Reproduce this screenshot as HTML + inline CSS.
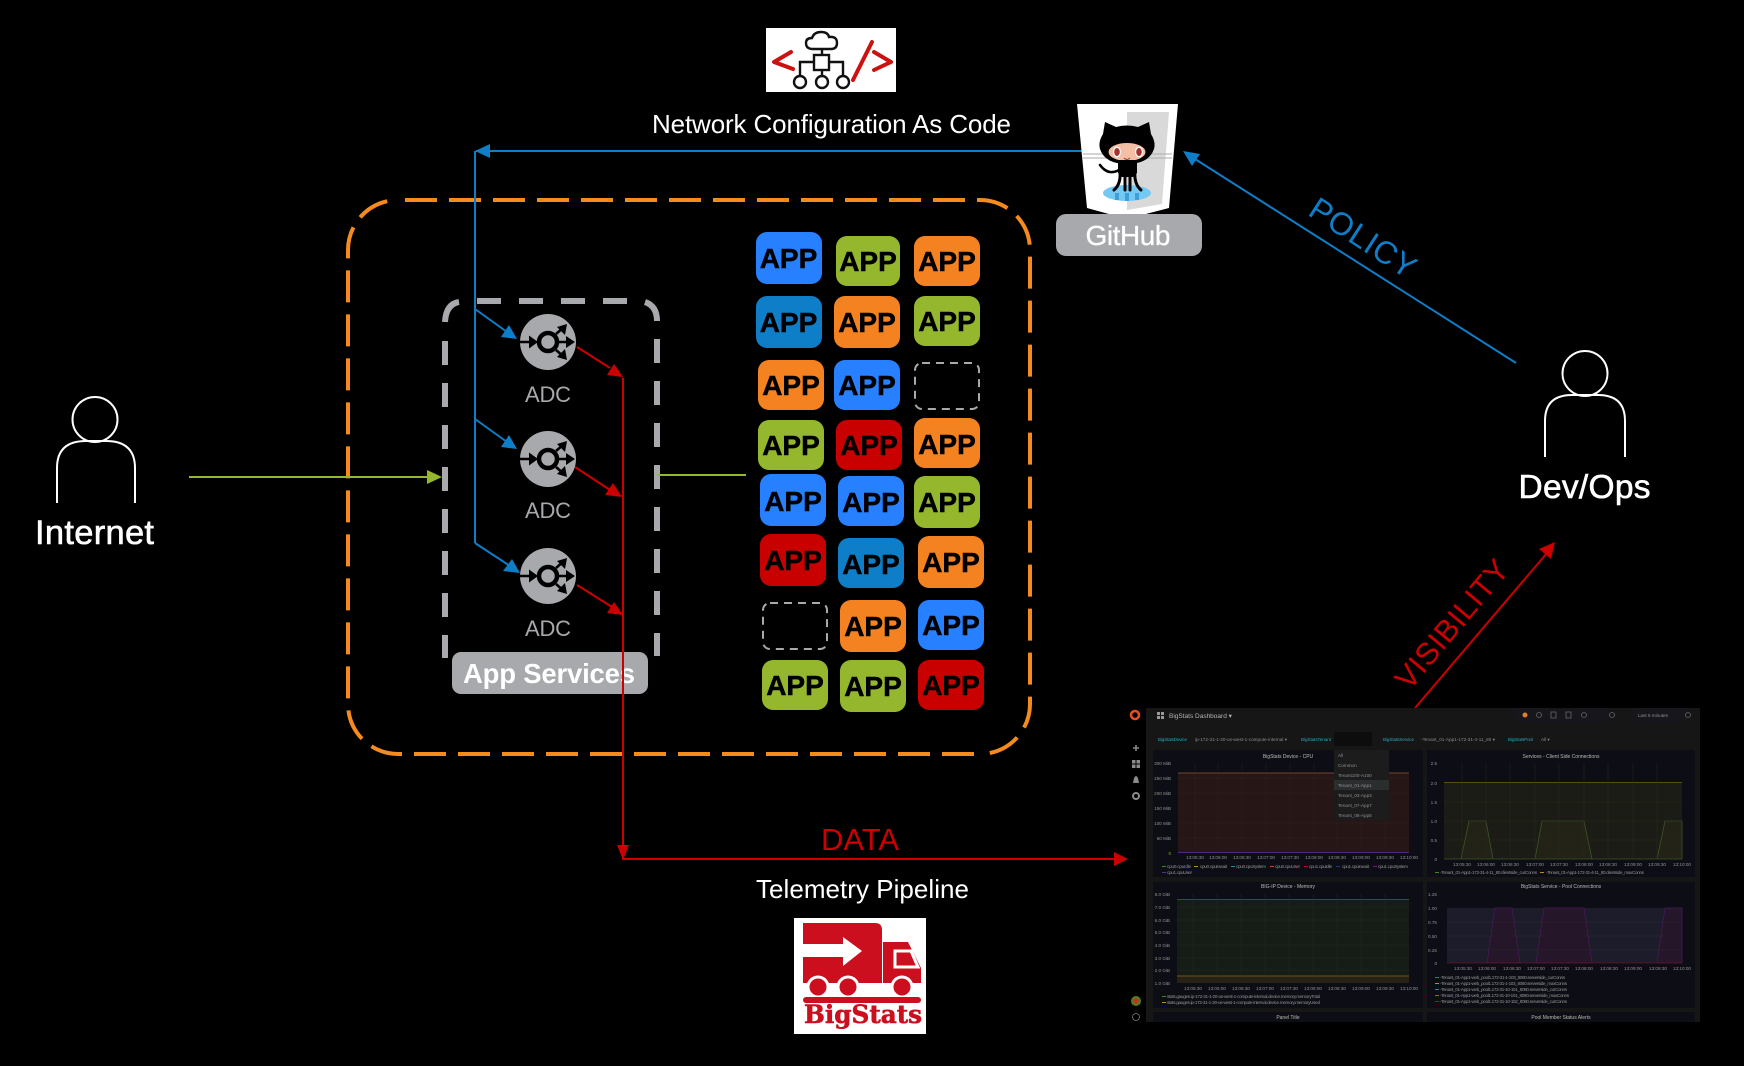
<!DOCTYPE html>
<html><head><meta charset="utf-8"><title>Network Configuration As Code</title>
<style>
html,body{margin:0;padding:0;background:#000;width:1744px;height:1066px;overflow:hidden}
svg{display:block}
text{font-family:"Liberation Sans",sans-serif}
.a{font-size:28px;font-weight:bold;fill:#000;stroke:#000;stroke-width:.5;text-anchor:middle}
.adc{font-size:22px;fill:#A7A9AC;text-anchor:middle}
.d text{font-size:4.6px;fill:#8e9092}
.d .t{font-size:5px;fill:#b8b9ba;text-anchor:middle}
.d .v{fill:#2ea6b8;font-size:4.6px}
.d .r{text-anchor:end}
.d .m{text-anchor:middle}
</style></head><body>
<svg width="1744" height="1066" viewBox="0 0 1744 1066" xmlns="http://www.w3.org/2000/svg">
<defs>
<g id="adc">
<circle r="28" fill="#A7A9AC"/>
<circle r="9" fill="none" stroke="#000" stroke-width="4.500"/>
<path d="M-28 0H-12M10 0H24M8-8L16-15M8 8L16 15" stroke="#000" stroke-width="2.600" fill="none"/>
<path d="M-19-6.500L-10 0L-19 6.500ZM18-6L27 0L18 6ZM9-15L19-18L17-7ZM9 15L19 18L17 7Z" fill="#000"/>
</g>
<filter id="b" x="0" y="0" width="100%" height="100%"><feGaussianBlur stdDeviation="0.35"/></filter>
</defs>
<rect width="1744" height="1066" fill="#000"/>

<!-- orange dashed container -->
<path d="M405 200H980A50 50 0 0 1 1030 250V704A50 50 0 0 1 980 754" fill="none" stroke="#F58A1F" stroke-width="4" stroke-dasharray="32 12"/>
<path d="M980 754H398A50 50 0 0 1 348 704V250A50 50 0 0 1 398 200" fill="none" stroke="#F58A1F" stroke-width="4" stroke-dasharray="32 12" stroke-dashoffset="-6"/>

<!-- gray dashed container -->
<g fill="none" stroke="#A7A9AC" stroke-width="6">
<path d="M477 301H627" stroke-dasharray="24 18"/>
<path d="M459 302Q446 304 445 322M645 302Q657 306 657 321"/>
<path d="M445 341V658" stroke-dasharray="24 18"/>
<path d="M657 339V656" stroke-dasharray="24 18"/>
</g>

<!-- green connectors -->
<path d="M189 477H428" stroke="#95B72D" stroke-width="2"/>
<path d="M427 470L442 477L427 484Z" fill="#95B72D"/>
<path d="M657 475H746" stroke="#95B72D" stroke-width="2"/>

<!-- ADC -->
<use href="#adc" x="548" y="342"/>
<use href="#adc" x="548" y="459"/>
<use href="#adc" x="548" y="576"/>
<text class="adc" x="548" y="402" textLength="46">ADC</text>
<text class="adc" x="548" y="518" textLength="46">ADC</text>
<text class="adc" x="548" y="636" textLength="46">ADC</text>

<!-- App Services label -->
<rect x="452" y="652" width="196" height="42" rx="9" fill="#A7A9AC"/>
<text x="463" y="683" font-size="27.500" font-weight="bold" fill="#fff" textLength="172">App Services</text>

<!-- blue connectors -->
<g stroke="#0F7EC8" stroke-width="2" fill="none">
<path d="M1082 151H476M475 151V543"/>
<path d="M475 309L507 332M475 419L507 442M475 543L510 566"/>
<path d="M1516 363L1195 159"/>
</g>
<g fill="#0F7EC8">
<path d="M475 151L490 144V158Z"/>
<path d="M517 339L501 337L509 325Z"/>
<path d="M517 449L501 447L509 435Z"/>
<path d="M520 573L503 571L512 559Z"/>
<path d="M1183 151L1200 154L1192 166Z"/>
</g>
<text transform="translate(1357 247) rotate(33)" font-size="32" fill="#0F7EC8" text-anchor="middle" textLength="120">POLICY</text>

<!-- red connectors -->
<g stroke="#CC0000" stroke-width="2" fill="none">
<path d="M577 347L610 368M575 467L610 490M577 585L612 607"/>
<path d="M623 378V859H1118"/>
<path d="M1415 708L1547 553"/>
</g>
<g fill="#CC0000">
<path d="M623 377L607 375L614 364Z"/>
<path d="M622 497L605 495L613 483Z"/>
<path d="M623 615L607 613L614 602Z"/>
<path d="M623 860L617 845H629Z"/>
<path d="M1555 542L1551 559L1539 549Z"/>
</g>
<text transform="translate(1460 631) rotate(-50)" font-size="31" fill="#CC0000" text-anchor="middle" textLength="158">VISIBILITY</text>
<text x="860" y="850" font-size="31" fill="#CC0000" text-anchor="middle" textLength="78" lengthAdjust="spacingAndGlyphs">DATA</text>

<!-- APP tiles -->
<g>
<rect x="756" y="232" width="66" height="52" rx="11" fill="#2680FF"/><text class="a" x="788.500" y="268">APP</text>
<rect x="836" y="236" width="64" height="50" rx="11" fill="#95B72D"/><text class="a" x="868" y="271">APP</text>
<rect x="914" y="236" width="66" height="50" rx="11" fill="#F58220"/><text class="a" x="947" y="271">APP</text>

<rect x="756" y="296" width="66" height="52" rx="11" fill="#0F7EC8"/><text class="a" x="788.500" y="332">APP</text>
<rect x="834" y="296" width="66" height="52" rx="11" fill="#F58220"/><text class="a" x="867" y="332">APP</text>
<rect x="914" y="296" width="66" height="50" rx="11" fill="#95B72D"/><text class="a" x="947" y="331">APP</text>

<rect x="758" y="360" width="66" height="50" rx="11" fill="#F58220"/><text class="a" x="791" y="395">APP</text>
<rect x="834" y="360" width="66" height="50" rx="11" fill="#2680FF"/><text class="a" x="867" y="395">APP</text>
<rect x="915" y="363" width="64" height="46" rx="7" fill="none" stroke="#A7A9AC" stroke-width="2" stroke-dasharray="8 6"/>

<rect x="758" y="420" width="66" height="50" rx="11" fill="#95B72D"/><text class="a" x="791" y="455">APP</text>
<rect x="836" y="420" width="66" height="50" rx="11" fill="#C80000"/><text class="a" x="869" y="455">APP</text>
<rect x="914" y="418" width="66" height="50" rx="11" fill="#F58220"/><text class="a" x="947" y="454">APP</text>

<rect x="760" y="474" width="66" height="52" rx="11" fill="#2680FF"/><text class="a" x="793" y="511">APP</text>
<rect x="838" y="476" width="66" height="50" rx="11" fill="#2680FF"/><text class="a" x="871" y="512">APP</text>
<rect x="914" y="476" width="66" height="52" rx="11" fill="#95B72D"/><text class="a" x="947" y="512">APP</text>

<rect x="760" y="534" width="66" height="52" rx="11" fill="#C80000"/><text class="a" x="793" y="570">APP</text>
<rect x="838" y="538" width="66" height="50" rx="11" fill="#0F7EC8"/><text class="a" x="871" y="574">APP</text>
<rect x="918" y="536" width="66" height="52" rx="11" fill="#F58220"/><text class="a" x="951" y="572">APP</text>

<rect x="763" y="603" width="64" height="46" rx="7" fill="none" stroke="#A7A9AC" stroke-width="2" stroke-dasharray="8 6"/>
<rect x="840" y="600" width="66" height="52" rx="11" fill="#F58220"/><text class="a" x="873" y="636">APP</text>
<rect x="918" y="600" width="66" height="50" rx="11" fill="#2680FF"/><text class="a" x="951" y="635">APP</text>

<rect x="762" y="660" width="66" height="50" rx="11" fill="#95B72D"/><text class="a" x="795" y="695">APP</text>
<rect x="840" y="660" width="66" height="52" rx="11" fill="#95B72D"/><text class="a" x="873" y="696">APP</text>
<rect x="918" y="660" width="66" height="50" rx="11" fill="#C80000"/><text class="a" x="951" y="695">APP</text>
</g>

<!-- persons -->
<g fill="none" stroke="#fff" stroke-width="2">
<circle cx="95" cy="419.500" r="22.500"/>
<path d="M57 503V468Q57 441 86 441H106Q135 441 135 468V503"/>
<circle cx="1585" cy="373.500" r="22.500"/>
<path d="M1545 457V421Q1545 395 1572 395H1598Q1625 395 1625 421V457"/>
</g>
<text x="94.500" y="544" font-size="34.500" fill="#fff" stroke="#fff" stroke-width=".6" text-anchor="middle" textLength="119">Internet</text>
<text x="1584.500" y="498" font-size="33.500" fill="#fff" stroke="#fff" stroke-width=".6" text-anchor="middle" textLength="132">Dev/Ops</text>

<!-- text labels -->
<text x="831.500" y="133" font-size="26" fill="#fff" text-anchor="middle" textLength="359">Network Configuration As Code</text>
<text x="862.500" y="898" font-size="26" fill="#fff" text-anchor="middle" textLength="213">Telemetry Pipeline</text>

<!-- config-as-code icon -->
<rect x="766" y="28" width="130" height="64" fill="#fff"/>
<g fill="none" stroke="#CC1111" stroke-width="4" stroke-linecap="round" stroke-linejoin="round">
<path d="M791 52L774 62L793 69M872 42L853 80M874 52L891 62L874 70"/>
</g>
<g fill="none" stroke="#111" stroke-width="2.400">
<path d="M813 49Q806 49 806 43Q806 38 812 38Q814 32 821 32Q828 32 829 37Q837 36 837 43Q837 49 831 49Z"/>
<rect x="814" y="55" width="15" height="15"/>
<path d="M822 49V55M814 62H800V76M829 62H843V76M822 70V76"/>
<circle cx="800" cy="82" r="6"/><circle cx="822" cy="82" r="6"/><circle cx="843" cy="82" r="6"/>
</g>

<!-- GitHub -->
<path d="M1077 104H1178L1169 208L1127 219L1087 208Z" fill="#fff"/>
<path d="M1127 112H1169L1162 204L1127 210Z" fill="#D9D9D9"/>
<path d="M1083 154H1172M1083 158H1172" stroke="#aaa" stroke-width="1"/>
<ellipse cx="1127" cy="193" rx="24" ry="8" fill="#73C9F2"/>
<path d="M1117 193v7M1127 193v8M1137 193v7" stroke="#3E9FDB" stroke-width="4"/>
<path d="M1105 122L1116 127Q1127 124 1138 127L1149 122L1151 134Q1156 142 1154 149Q1149 164 1127 164Q1105 164 1100 149Q1098 142 1103 134Z" fill="#000"/>
<ellipse cx="1127" cy="152" rx="18.500" ry="9" fill="#F4BFA4"/>
<ellipse cx="1117" cy="152" rx="4" ry="5.500" fill="#fff"/><ellipse cx="1117" cy="152" rx="2.800" ry="4" fill="#A3332E"/>
<ellipse cx="1139" cy="152" rx="4" ry="5.500" fill="#fff"/><ellipse cx="1139" cy="152" rx="2.800" ry="4" fill="#A3332E"/>
<path d="M1124 158Q1127 161 1130 158" stroke="#8a3a30" fill="none" stroke-width="1"/>
<path d="M1118 160H1137V173L1133 177H1122L1118 173Z" fill="#000"/>
<path d="M1120 172Q1121 184 1114 190M1125 172V190M1130 172V190M1135 172Q1134 184 1141 190" stroke="#000" stroke-width="3" fill="none" stroke-linecap="round"/>
<path d="M1119 170Q1108 176 1100 165" stroke="#000" stroke-width="2.500" fill="none" stroke-linecap="round"/>
<rect x="1056" y="214" width="146" height="42" rx="10" fill="#A7A9AC"/>
<text x="1128" y="245" font-size="28" fill="#fff" stroke="#fff" stroke-width=".3" text-anchor="middle" textLength="85">GitHub</text>

<!-- BigStats logo -->
<rect x="794" y="918" width="132" height="116" fill="#fff"/>
<path d="M803 923H875Q882 923 882 930V983H803Z" fill="#CC0F1E"/>
<path d="M803 944H843V937L862 951L843 966V957H803Z" fill="#fff"/>
<path d="M883 942H908L921 968V983H883Z" fill="#CC0F1E"/>
<path d="M895 951H911L918 967H895Z" fill="#CC0F1E" stroke="#fff" stroke-width="3"/>
<g fill="#CC0F1E" stroke="#fff" stroke-width="3"><circle cx="818" cy="987" r="10"/><circle cx="848" cy="987" r="10"/><circle cx="902" cy="987" r="10"/></g>
<rect x="803" y="997" width="118" height="6" rx="3" fill="#CC0F1E"/>
<text x="863" y="1023" style="font-family:'DejaVu Serif',serif" font-size="25" font-weight="bold" fill="#CC0F1E" stroke="#CC0F1E" stroke-width=".6" text-anchor="middle" textLength="118" lengthAdjust="spacingAndGlyphs">BigStats</text>

<!-- Dashboard -->
<g class="d" filter="url(#b)">
<rect x="1123" y="708" width="577" height="314" fill="#131417"/>
<rect x="1123" y="708" width="23" height="314" fill="#040405"/>
<!-- panels -->
<rect x="1153" y="750" width="270" height="127" fill="#0f1013"/>
<rect x="1153" y="882" width="270" height="126" fill="#0f1013"/>
<rect x="1427" y="750" width="268" height="127" fill="#0f1013"/>
<rect x="1427" y="882" width="268" height="126" fill="#0f1013"/>
<rect x="1153" y="1012" width="270" height="10" fill="#0f1013"/>
<rect x="1427" y="1012" width="268" height="10" fill="#0f1013"/>
<!-- plots -->
<rect x="1178" y="773" width="231" height="80" fill="#261714"/>
<path d="M1178 773H1409" stroke="#6e4530" stroke-width="1"/>
<path d="M1178 852.500H1409" stroke="#50288a" stroke-width="1"/>
<path d="M1178 778.500H1409M1178 793H1409M1178 808H1409M1178 823H1409M1178 838H1409M1195 763V853M1218 763V853M1242 763V853M1266 763V853M1290 763V853M1314 763V853M1337 763V853M1361 763V853M1385 763V853" stroke="#33262a" stroke-width=".4"/>
<rect x="1177" y="899" width="232" height="84" fill="#151a16"/>
<rect x="1177" y="976" width="232" height="7" fill="#262312"/>
<path d="M1177 899.500H1409" stroke="#2f5528" stroke-width="1"/>
<path d="M1177 976H1409" stroke="#6a5518" stroke-width="1"/>
<path d="M1177 907H1409M1177 920H1409M1177 932H1409M1177 945H1409M1177 958H1409M1177 970H1409M1193 894V983M1217 894V983M1241 894V983M1265 894V983M1289 894V983M1313 894V983M1337 894V983M1361 894V983M1385 894V983" stroke="#262d27" stroke-width=".4"/>
<rect x="1444" y="782" width="238" height="77" fill="#1e1c12"/>
<path d="M1444 782.500H1682" stroke="#5e4a18" stroke-width="1"/>
<path d="M1444 859H1461L1469 821H1486L1493 859H1535L1542 821H1584L1592 859H1657L1665 821H1682V859Z" fill="#232415" stroke="#3a5528" stroke-width=".8"/>
<path d="M1444 802H1682M1444 821H1682M1444 840H1682M1462 763V859M1486 763V859M1510 763V859M1535 763V859M1559 763V859M1584 763V859M1608 763V859M1633 763V859M1657 763V859" stroke="#2c2d24" stroke-width=".4"/>
<rect x="1447" y="908" width="235" height="55" fill="#1b1c2c"/>
<path d="M1487 963L1495 908H1512L1520 963ZM1536 963L1544 908H1584L1592 963ZM1657 963L1665 908H1682V963Z" fill="#261729" stroke="#4a1a5a" stroke-width=".7"/>
<path d="M1447 963H1682" stroke="#6a1020" stroke-width=".8"/>
<path d="M1447 922H1682M1447 936H1682M1447 950H1682" stroke="#2a2b3a" stroke-width=".4"/>
<!-- header -->
<rect x="1157" y="712" width="3" height="3" fill="#9a9a9a"/><rect x="1161" y="712" width="3" height="3" fill="#9a9a9a"/><rect x="1157" y="716" width="3" height="3" fill="#9a9a9a"/><rect x="1161" y="716" width="3" height="3" fill="#9a9a9a"/>
<text x="1169" y="718" style="font-size:6.500px;fill:#b4b4b4">BigStats Dashboard ▾</text>
<text x="1158" y="741" class="v" textLength="29">BigStatsDevice</text>
<text x="1195" y="741" textLength="92">ip-172-31-1-20-us-west-1-compute-internal ▾</text>
<text x="1301" y="741" class="v" textLength="30">BigStatsTenant</text>
<rect x="1334" y="732" width="38" height="14" fill="#0a0a0c"/>
<text x="1383" y="741" class="v" textLength="31">BigStatsService</text>
<text x="1421" y="741" textLength="74">-Tenant_01-App1-172-31-4-11_80 ▾</text>
<text x="1508" y="741" class="v" textLength="25">BigStatsPool</text>
<text x="1541" y="741">All ▾</text>
<g fill="#17181b"><rect x="1514" y="708" width="42" height="14"/><rect x="1537" y="708" width="12" height="14"/><rect x="1552" y="708" width="56" height="14"/><rect x="1598" y="708" width="11" height="14"/><rect x="1634" y="708" width="54" height="14"/></g>
<text x="1638" y="717">Last 5 minutes</text>
<circle cx="1525" cy="715" r="2.500" fill="#e08020"/>
<g fill="none" stroke="#666" stroke-width=".8"><circle cx="1539" cy="715" r="2.500"/><rect x="1551" y="712" width="5" height="6"/><rect x="1566" y="712" width="5" height="6"/><circle cx="1584" cy="715" r="2.500"/><circle cx="1612" cy="715" r="2.500"/><circle cx="1688" cy="715" r="2.500"/></g>
<!-- titles -->
<text class="t" x="1288" y="758">BigStats Device - CPU</text>
<text class="t" x="1288" y="888">BIG-IP Device - Memory</text>
<text class="t" x="1561" y="758">Services - Client Side Connections</text>
<text class="t" x="1561" y="888">BigStats Service - Pool Connections</text>
<text class="t" x="1288" y="1019">Panel Title</text>
<text class="t" x="1561" y="1019">Pool Member Status Alerts</text>
<!-- y axes -->
<g>
<text class="r" x="1171" y="765">300 MiB</text><text class="r" x="1171" y="780">250 MiB</text><text class="r" x="1171" y="795">200 MiB</text><text class="r" x="1171" y="810">150 MiB</text><text class="r" x="1171" y="825">100 MiB</text><text class="r" x="1171" y="840">50 MiB</text><text class="r" x="1171" y="855">0</text>
<text class="r" x="1170" y="896">8.0 GiB</text><text class="r" x="1170" y="909">7.0 GiB</text><text class="r" x="1170" y="922">6.0 GiB</text><text class="r" x="1170" y="934">5.0 GiB</text><text class="r" x="1170" y="947">4.0 GiB</text><text class="r" x="1170" y="960">3.0 GiB</text><text class="r" x="1170" y="972">2.0 GiB</text><text class="r" x="1170" y="985">1.0 GiB</text>
<text class="r" x="1437" y="765">2.5</text><text class="r" x="1437" y="785">2.0</text><text class="r" x="1437" y="804">1.5</text><text class="r" x="1437" y="823">1.0</text><text class="r" x="1437" y="842">0.5</text><text class="r" x="1437" y="861">0</text>
<text class="r" x="1437" y="896">1.25</text><text class="r" x="1437" y="910">1.00</text><text class="r" x="1437" y="924">0.75</text><text class="r" x="1437" y="938">0.50</text><text class="r" x="1437" y="952">0.25</text><text class="r" x="1437" y="965">0</text>
</g>
<!-- x axes -->
<text class="m" x="1195" y="859">13:05:30</text><text class="m" x="1218" y="859">13:06:00</text><text class="m" x="1242" y="859">13:06:30</text><text class="m" x="1266" y="859">13:07:00</text><text class="m" x="1290" y="859">13:07:30</text><text class="m" x="1314" y="859">13:08:00</text><text class="m" x="1337" y="859">13:08:30</text><text class="m" x="1361" y="859">13:09:00</text><text class="m" x="1385" y="859">13:09:30</text><text class="m" x="1409" y="859">13:10:00</text>
<text class="m" x="1193" y="990">13:05:30</text><text class="m" x="1217" y="990">13:06:00</text><text class="m" x="1241" y="990">13:06:30</text><text class="m" x="1265" y="990">13:07:00</text><text class="m" x="1289" y="990">13:07:30</text><text class="m" x="1313" y="990">13:08:00</text><text class="m" x="1337" y="990">13:08:30</text><text class="m" x="1361" y="990">13:09:00</text><text class="m" x="1385" y="990">13:09:30</text><text class="m" x="1409" y="990">13:10:00</text>
<text class="m" x="1462" y="866">13:05:30</text><text class="m" x="1486" y="866">13:06:00</text><text class="m" x="1510" y="866">13:06:30</text><text class="m" x="1535" y="866">13:07:00</text><text class="m" x="1559" y="866">13:07:30</text><text class="m" x="1584" y="866">13:08:00</text><text class="m" x="1608" y="866">13:08:30</text><text class="m" x="1633" y="866">13:09:00</text><text class="m" x="1657" y="866">13:09:30</text><text class="m" x="1682" y="866">13:10:00</text>
<text class="m" x="1463" y="970">13:05:30</text><text class="m" x="1487" y="970">13:06:00</text><text class="m" x="1512" y="970">13:06:30</text><text class="m" x="1536" y="970">13:07:00</text><text class="m" x="1560" y="970">13:07:30</text><text class="m" x="1584" y="970">13:08:00</text><text class="m" x="1609" y="970">13:08:30</text><text class="m" x="1633" y="970">13:09:00</text><text class="m" x="1658" y="970">13:09:30</text><text class="m" x="1682" y="970">13:10:00</text>
<!-- legends -->
<g stroke-width="1">
<path d="M1162 866.500h4" stroke="#3a8a2a"/><path d="M1194 866.500h4" stroke="#c08a10"/><path d="M1231 866.500h4" stroke="#1a90a0"/><path d="M1270 866.500h4" stroke="#c05020"/><path d="M1304 866.500h4" stroke="#b01020"/><path d="M1336 866.500h4" stroke="#104090"/><path d="M1373 866.500h4" stroke="#801090"/><path d="M1162 872.500h4" stroke="#5a2e96"/>
<path d="M1162 996.500h4" stroke="#3a8a2a"/><path d="M1162 1002.500h4" stroke="#c08a10"/>
<path d="M1435 872.500h4" stroke="#3a8a2a"/><path d="M1540 872.500h4" stroke="#c08a10"/>
<path d="M1435 977.500h4" stroke="#3a8a2a"/><path d="M1435 983.500h4" stroke="#c08a10"/><path d="M1435 989.500h4" stroke="#1a90a0"/><path d="M1435 995.500h4" stroke="#c05020"/><path d="M1435 1001.500h4" stroke="#b01020"/>
</g>
<text x="1167" y="868" textLength="24">cpu0.cpuIdle</text><text x="1200" y="868" textLength="27">cpu0.cpuIowait</text><text x="1236" y="868" textLength="30">cpu0.cpuSystem</text><text x="1275" y="868" textLength="25">cpu0.cpuUser</text><text x="1309" y="868" textLength="23">cpu1.cpuIdle</text><text x="1342" y="868" textLength="27">cpu1.cpuIowait</text><text x="1378" y="868" textLength="30">cpu1.cpuSystem</text>
<text x="1167" y="874" textLength="25">cpu1.cpuUser</text>
<text x="1167" y="998" textLength="153">stats.gauges.ip-172-31-1-20-us-west-1-compute-internal.device.memory.memoryTotal</text>
<text x="1167" y="1004" textLength="153">stats.gauges.ip-172-31-1-20-us-west-1-compute-internal.device.memory.memoryUsed</text>
<text x="1440" y="874" textLength="97">-Tenant_01-App1-172-31-4-11_80.clientside_curConns</text>
<text x="1546" y="874" textLength="98">-Tenant_01-App1-172-31-4-11_80.clientside_maxConns</text>
<text x="1440" y="979" textLength="125">-Tenant_01-App1-web_pool1.172-31-1-103_8080.serverside_curConns</text>
<text x="1440" y="985" textLength="127">-Tenant_01-App1-web_pool1.172-31-1-103_8080.serverside_maxConns</text>
<text x="1440" y="991" textLength="127">-Tenant_01-App1-web_pool1.172-31-10-101_8080.serverside_curConns</text>
<text x="1440" y="997" textLength="129">-Tenant_01-App1-web_pool1.172-31-10-101_8080.serverside_maxConns</text>
<text x="1440" y="1003" textLength="127">-Tenant_01-App1-web_pool1.172-31-10-102_8080.serverside_curConns</text>
<!-- dropdown -->
<rect x="1334" y="750" width="55" height="70" fill="#1a1b1d"/>
<rect x="1334" y="780" width="55" height="10" fill="#2c2d2f"/>
<g style="fill:#b0b0b0"><text x="1338" y="757">All</text><text x="1338" y="767">Common</text><text x="1338" y="777">Tenant100-A100</text><text x="1338" y="787">Tenant_01-App1</text><text x="1338" y="797">Tenant_03-App3</text><text x="1338" y="807">Tenant_07-App7</text><text x="1338" y="817">Tenant_08-App8</text></g>
<!-- sidebar icons -->
<circle cx="1135" cy="715" r="4" fill="none" stroke="#E8501F" stroke-width="2.500"/>
<path d="M1133 748h6M1136 745v6" stroke="#8a8a8a" stroke-width="1.500"/>
<rect x="1132" y="760" width="3.500" height="3.500" fill="#8a8a8a"/><rect x="1136.500" y="760" width="3.500" height="3.500" fill="#8a8a8a"/><rect x="1132" y="764.500" width="3.500" height="3.500" fill="#8a8a8a"/><rect x="1136.500" y="764.500" width="3.500" height="3.500" fill="#8a8a8a"/>
<path d="M1133 783Q1134 776 1136 776Q1138 776 1139 783Z" fill="#8a8a8a"/>
<circle cx="1136" cy="796" r="3" fill="none" stroke="#8a8a8a" stroke-width="2"/>
<circle cx="1136" cy="1001" r="5" fill="#5a7a20"/><circle cx="1136" cy="1001" r="2.500" fill="#c03020"/>
<circle cx="1136" cy="1017" r="3.500" fill="none" stroke="#777" stroke-width=".8"/>
</g>
<!-- data arrowhead over dashboard sidebar -->
<path d="M1128 859L1114 852V866Z" fill="#CC0000"/>
</svg>
</body></html>
